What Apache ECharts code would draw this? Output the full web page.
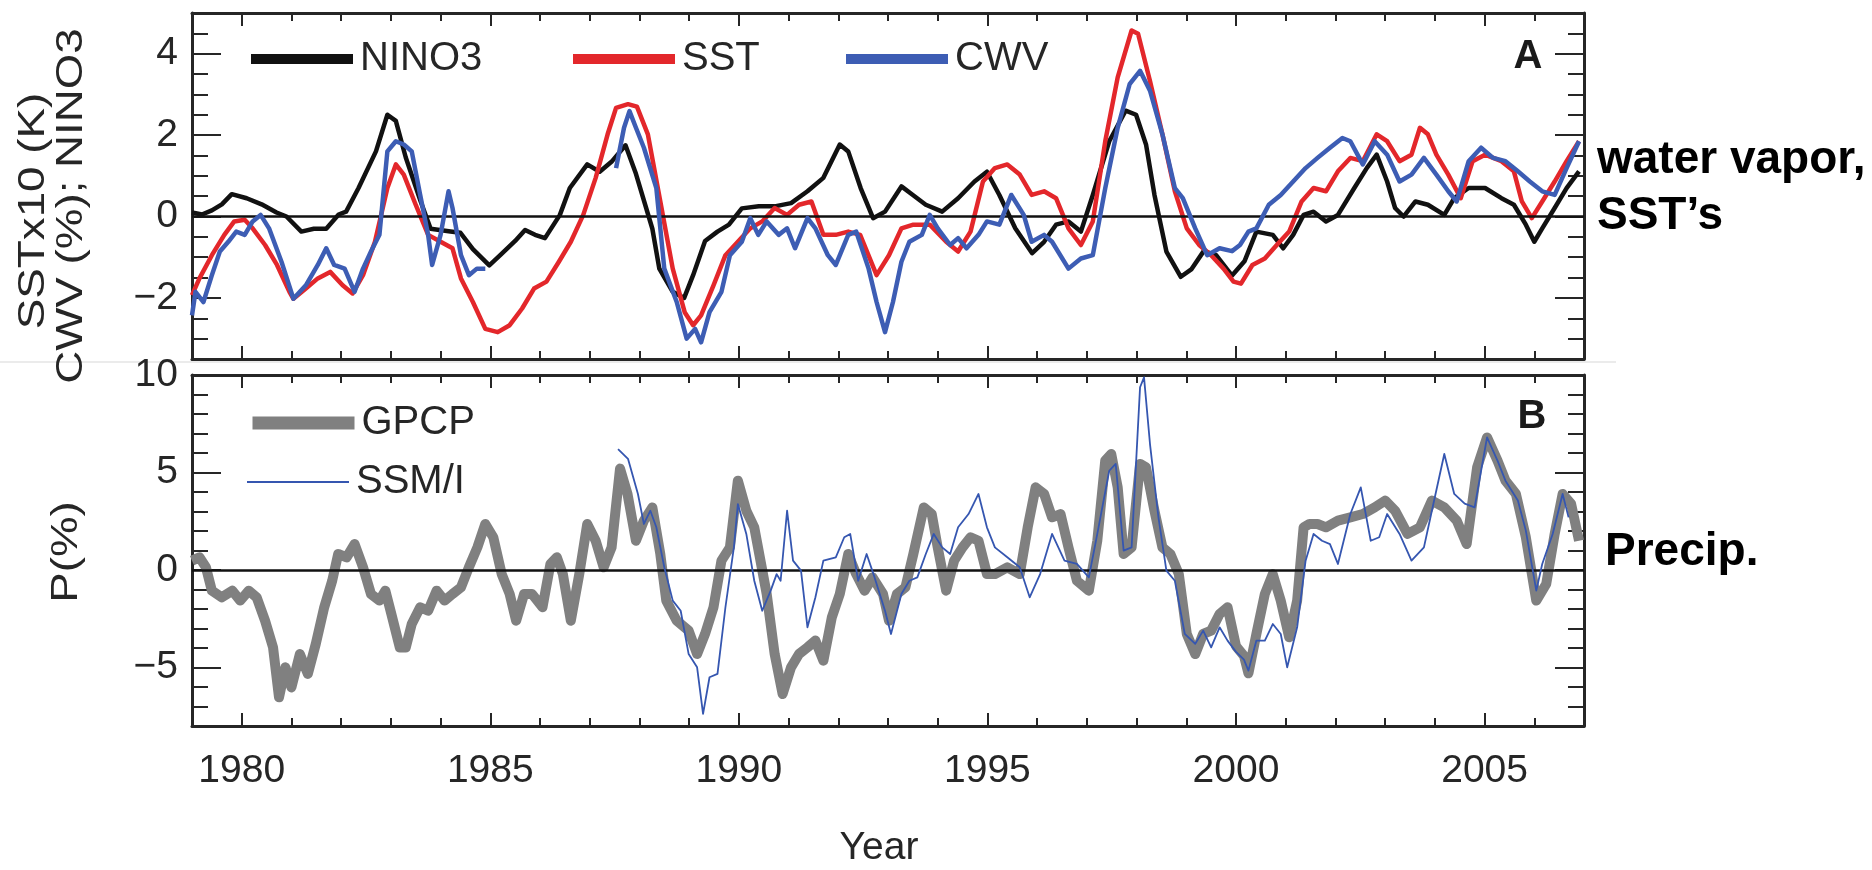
<!DOCTYPE html>
<html>
<head>
<meta charset="utf-8">
<title>NINO3, SST, CWV and precipitation anomalies</title>
<script src="https://cdn.jsdelivr.net/npm/echarts@6/dist/echarts.min.js"></script>
<style>
  html, body { margin: 0; padding: 0; background: #fff; }
  #chart { width: 1872px; height: 870px; }
</style>
</head>
<body>
<div id="chart"></div>
<script>
// tick labels
var yearLabels = [1980, 1985, 1990, 1995, 2000, 2005];
var topLabels = [-2, 0, 2, 4];
var bottomLabels = [-5, 0, 5, 10];

// panel A : [year, value]
var nino3 = [[1979.0,0.1],[1979.2,0.05],[1979.4,0.15],[1979.6,0.3],[1979.8,0.55],[1980.1,0.45],[1980.4,0.3],[1980.7,0.1],[1980.9,0.0],[1981.2,-0.37],[1981.45,-0.3],[1981.7,-0.3],[1981.95,0.05],[1982.1,0.12],[1982.35,0.7],[1982.7,1.6],[1982.93,2.5],[1983.1,2.35],[1983.3,1.45],[1983.6,0.37],[1983.8,-0.3],[1984.2,-0.37],[1984.4,-0.4],[1984.65,-0.8],[1984.98,-1.2],[1985.2,-0.95],[1985.5,-0.6],[1985.7,-0.33],[1985.9,-0.45],[1986.1,-0.53],[1986.4,0.04],[1986.6,0.7],[1986.95,1.28],[1987.2,1.1],[1987.45,1.36],[1987.72,1.75],[1987.93,1.05],[1988.26,-0.3],[1988.4,-1.28],[1988.67,-1.85],[1988.9,-2.0],[1989.08,-1.44],[1989.32,-0.6],[1989.57,-0.37],[1989.8,-0.2],[1990.06,0.2],[1990.4,0.25],[1990.72,0.25],[1991.05,0.33],[1991.38,0.62],[1991.7,0.95],[1992.03,1.77],[1992.2,1.6],[1992.45,0.7],[1992.7,-0.04],[1992.94,0.12],[1993.27,0.74],[1993.5,0.53],[1993.76,0.29],[1994.09,0.12],[1994.41,0.45],[1994.74,0.86],[1994.99,1.1],[1995.24,0.53],[1995.56,-0.29],[1995.9,-0.9],[1996.14,-0.62],[1996.38,-0.2],[1996.63,-0.12],[1996.88,-0.37],[1997.12,0.53],[1997.45,1.85],[1997.78,2.6],[1997.99,2.5],[1998.19,1.77],[1998.36,0.53],[1998.6,-0.86],[1998.89,-1.48],[1999.1,-1.3],[1999.35,-0.85],[1999.6,-0.95],[1999.92,-1.45],[2000.17,-1.1],[2000.41,-0.37],[2000.74,-0.45],[2000.95,-0.78],[2001.15,-0.45],[2001.36,0.04],[2001.56,0.12],[2001.81,-0.12],[2002.05,0.04],[2002.38,0.7],[2002.63,1.19],[2002.83,1.52],[2003.04,0.86],[2003.2,0.21],[2003.37,0.0],[2003.61,0.37],[2003.86,0.29],[2004.19,0.04],[2004.39,0.45],[2004.68,0.7],[2005.01,0.7],[2005.34,0.45],[2005.59,0.29],[2005.83,-0.2],[2006.0,-0.62],[2006.16,-0.29],[2006.41,0.21],[2006.65,0.7],[2006.9,1.11]];

var sst = [[1979.0,-1.93],[1979.15,-1.52],[1979.4,-0.95],[1979.65,-0.45],[1979.85,-0.12],[1980.06,-0.08],[1980.22,-0.29],[1980.47,-0.7],[1980.71,-1.19],[1980.96,-1.85],[1981.04,-2.02],[1981.29,-1.77],[1981.53,-1.52],[1981.78,-1.36],[1982.03,-1.69],[1982.23,-1.89],[1982.44,-1.44],[1982.68,-0.62],[1982.93,0.7],[1983.1,1.28],[1983.26,1.03],[1983.5,0.29],[1983.75,-0.45],[1984.0,-0.62],[1984.24,-0.78],[1984.41,-1.52],[1984.65,-2.1],[1984.9,-2.76],[1985.15,-2.84],[1985.39,-2.67],[1985.64,-2.26],[1985.88,-1.77],[1986.13,-1.6],[1986.38,-1.11],[1986.62,-0.62],[1986.87,0.04],[1987.12,0.95],[1987.36,2.02],[1987.53,2.67],[1987.77,2.76],[1987.95,2.7],[1988.17,2.02],[1988.42,0.37],[1988.67,-1.28],[1988.91,-2.35],[1989.08,-2.67],[1989.24,-2.43],[1989.49,-1.69],[1989.73,-0.95],[1989.98,-0.62],[1990.23,-0.29],[1990.47,-0.12],[1990.72,0.21],[1990.97,0.04],[1991.21,0.29],[1991.46,0.37],[1991.7,-0.45],[1991.95,-0.45],[1992.2,-0.37],[1992.44,-0.45],[1992.77,-1.44],[1993.02,-0.95],[1993.27,-0.29],[1993.51,-0.2],[1993.84,-0.2],[1994.17,-0.62],[1994.41,-0.86],[1994.66,-0.37],[1994.91,0.86],[1995.15,1.19],[1995.4,1.28],[1995.65,1.03],[1995.89,0.53],[1996.14,0.62],[1996.38,0.45],[1996.63,-0.29],[1996.88,-0.7],[1997.12,-0.12],[1997.37,1.85],[1997.62,3.42],[1997.9,4.57],[1998.03,4.49],[1998.27,3.33],[1998.52,2.02],[1998.77,0.62],[1999.01,-0.29],[1999.26,-0.7],[1999.5,-0.95],[1999.75,-1.28],[1999.95,-1.6],[2000.1,-1.65],[2000.33,-1.19],[2000.58,-1.03],[2000.82,-0.7],[2001.07,-0.37],[2001.32,0.37],[2001.56,0.7],[2001.81,0.62],[2002.05,1.11],[2002.3,1.44],[2002.55,1.36],[2002.83,2.02],[2003.04,1.85],[2003.29,1.36],[2003.53,1.52],[2003.7,2.18],[2003.86,2.02],[2004.03,1.52],[2004.27,1.03],[2004.52,0.45],[2004.76,1.36],[2005.01,1.52],[2005.34,1.36],[2005.59,1.11],[2005.75,0.37],[2005.95,-0.04],[2006.16,0.37],[2006.41,0.86],[2006.65,1.36],[2006.9,1.85]];

// CWV has no data between early 1985 and mid 1987
var cwv = [[1979.0,-2.43],[1979.07,-1.85],[1979.23,-2.1],[1979.4,-1.44],[1979.56,-0.86],[1979.73,-0.62],[1979.89,-0.37],[1980.06,-0.45],[1980.22,-0.12],[1980.38,0.04],[1980.55,-0.29],[1980.8,-1.11],[1981.04,-2.02],[1981.29,-1.69],[1981.53,-1.19],[1981.7,-0.78],[1981.86,-1.19],[1982.07,-1.28],[1982.27,-1.85],[1982.44,-1.28],[1982.6,-0.86],[1982.77,-0.45],[1982.93,1.6],[1983.1,1.85],[1983.26,1.77],[1983.42,1.6],[1983.59,0.53],[1983.75,-0.45],[1983.83,-1.19],[1984.0,-0.45],[1984.16,0.62],[1984.24,0.21],[1984.41,-0.95],[1984.57,-1.44],[1984.73,-1.28],[1984.9,-1.28],
  [1986.2,null],
  [1987.53,1.19],[1987.69,2.18],[1987.8,2.59],[1987.93,2.18],[1988.09,1.69],[1988.34,0.7],[1988.5,-1.28],[1988.75,-2.1],[1988.95,-3.0],[1989.12,-2.76],[1989.24,-3.09],[1989.41,-2.35],[1989.65,-1.85],[1989.82,-0.95],[1990.06,-0.62],[1990.23,-0.04],[1990.39,-0.45],[1990.56,-0.12],[1990.8,-0.45],[1990.97,-0.29],[1991.13,-0.78],[1991.38,-0.04],[1991.54,-0.29],[1991.79,-0.95],[1991.95,-1.19],[1992.2,-0.45],[1992.36,-0.37],[1992.61,-1.28],[1992.77,-2.1],[1992.94,-2.84],[1993.1,-2.1],[1993.27,-1.11],[1993.43,-0.62],[1993.68,-0.45],[1993.84,0.04],[1994.0,-0.29],[1994.25,-0.7],[1994.41,-0.53],[1994.58,-0.78],[1994.82,-0.45],[1994.99,-0.12],[1995.24,-0.2],[1995.48,0.53],[1995.73,0.04],[1995.89,-0.62],[1996.14,-0.45],[1996.3,-0.62],[1996.63,-1.28],[1996.88,-1.03],[1997.12,-0.95],[1997.37,0.7],[1997.62,2.18],[1997.86,3.25],[1998.07,3.58],[1998.27,3.09],[1998.52,2.02],[1998.77,0.7],[1998.93,0.45],[1999.18,-0.29],[1999.42,-0.95],[1999.67,-0.78],[1999.92,-0.85],[2000.08,-0.7],[2000.25,-0.37],[2000.41,-0.29],[2000.66,0.29],[2000.9,0.53],[2001.15,0.86],[2001.4,1.19],[2001.64,1.44],[2001.89,1.69],[2002.14,1.93],[2002.3,1.85],[2002.55,1.28],[2002.79,1.85],[2003.04,1.52],[2003.29,0.86],[2003.53,1.03],[2003.78,1.44],[2004.03,1.03],[2004.27,0.62],[2004.44,0.37],[2004.68,1.36],[2004.93,1.69],[2005.17,1.44],[2005.42,1.36],[2005.67,1.11],[2005.91,0.86],[2006.16,0.62],[2006.41,0.53],[2006.65,1.19],[2006.9,1.85]];

// panel B : [year, value]
var gpcp = [[1979.0,0.48],[1979.15,0.65],[1979.28,0.14],[1979.4,-1.06],[1979.6,-1.4],[1979.81,-1.06],[1979.97,-1.57],[1980.14,-1.06],[1980.3,-1.4],[1980.47,-2.6],[1980.63,-3.97],[1980.75,-6.53],[1980.88,-4.99],[1981.0,-6.02],[1981.17,-4.31],[1981.33,-5.33],[1981.49,-3.79],[1981.66,-1.91],[1981.82,-0.55],[1981.94,0.82],[1982.11,0.65],[1982.27,1.33],[1982.44,0.14],[1982.6,-1.23],[1982.77,-1.57],[1982.89,-1.06],[1983.01,-2.26],[1983.18,-3.97],[1983.3,-3.97],[1983.42,-2.77],[1983.59,-1.91],[1983.75,-2.09],[1983.92,-1.06],[1984.08,-1.57],[1984.24,-1.23],[1984.41,-0.89],[1984.57,0.14],[1984.74,1.16],[1984.9,2.36],[1985.06,1.68],[1985.23,-0.21],[1985.39,-1.23],[1985.52,-2.6],[1985.68,-1.23],[1985.84,-1.23],[1986.05,-1.91],[1986.21,0.31],[1986.34,0.65],[1986.46,-0.21],[1986.62,-2.6],[1986.79,-0.21],[1986.95,2.36],[1987.12,1.5],[1987.28,0.14],[1987.44,1.16],[1987.61,5.2],[1987.76,3.9],[1987.93,1.5],[1988.09,2.53],[1988.26,3.21],[1988.42,0.82],[1988.54,-1.57],[1988.75,-2.6],[1988.99,-3.11],[1989.16,-4.31],[1989.32,-3.28],[1989.49,-1.91],[1989.65,0.48],[1989.82,1.16],[1989.98,4.58],[1990.15,3.04],[1990.31,2.19],[1990.56,-1.23],[1990.72,-4.31],[1990.88,-6.36],[1991.05,-4.99],[1991.21,-4.31],[1991.38,-3.97],[1991.54,-3.62],[1991.7,-4.65],[1991.87,-2.43],[1992.03,-1.23],[1992.2,0.82],[1992.36,-0.21],[1992.53,-1.06],[1992.69,-0.38],[1992.9,-1.23],[1993.02,-2.6],[1993.18,-1.23],[1993.35,-0.89],[1993.51,0.82],[1993.72,3.21],[1993.88,2.87],[1994.0,1.16],[1994.17,-1.06],[1994.33,0.48],[1994.5,1.16],[1994.66,1.68],[1994.82,1.5],[1994.99,-0.21],[1995.15,-0.21],[1995.4,0.14],[1995.65,-0.21],[1995.81,2.19],[1995.97,4.24],[1996.14,3.9],[1996.3,2.7],[1996.47,2.87],[1996.63,1.16],[1996.8,-0.55],[1997.04,-1.06],[1997.21,1.5],[1997.37,5.61],[1997.49,5.95],[1997.62,4.24],[1997.74,0.82],[1997.9,1.16],[1998.07,5.44],[1998.19,5.26],[1998.36,3.04],[1998.52,1.16],[1998.68,0.82],[1998.85,-0.21],[1999.01,-3.28],[1999.18,-4.31],[1999.34,-3.28],[1999.5,-3.11],[1999.67,-2.26],[1999.83,-1.91],[2000.0,-3.9],[2000.16,-4.4],[2000.25,-5.3],[2000.41,-3.28],[2000.58,-1.23],[2000.74,-0.21],[2000.9,-1.57],[2001.07,-3.45],[2001.23,-1.57],[2001.36,2.19],[2001.48,2.36],[2001.64,2.36],[2001.81,2.19],[2002.05,2.53],[2002.3,2.7],[2002.55,2.87],[2002.79,3.21],[2003.0,3.56],[2003.2,3.04],[2003.45,1.85],[2003.7,2.19],[2003.94,3.56],[2004.19,3.21],[2004.44,2.53],[2004.64,1.33],[2004.85,5.26],[2005.05,6.8],[2005.26,5.61],[2005.42,4.58],[2005.63,3.9],[2005.83,1.68],[2006.04,-1.57],[2006.24,-0.72],[2006.41,1.85],[2006.57,3.9],[2006.74,3.4],[2006.9,1.5]];

var ssmi = [[1987.57,6.2],[1987.77,5.7],[1987.97,3.9],[1988.09,2.36],[1988.22,3.04],[1988.34,2.19],[1988.5,0.14],[1988.67,-1.57],[1988.83,-2.09],[1988.99,-4.31],[1989.16,-4.99],[1989.28,-7.38],[1989.41,-5.5],[1989.57,-5.33],[1989.73,-1.91],[1989.9,1.16],[1989.98,3.38],[1990.15,1.85],[1990.31,-0.55],[1990.47,-2.09],[1990.64,-1.06],[1990.76,-0.21],[1990.84,-0.55],[1990.97,3.04],[1991.09,0.48],[1991.25,-0.03],[1991.38,-2.94],[1991.54,-1.4],[1991.7,0.48],[1991.95,0.65],[1992.12,1.68],[1992.24,1.85],[1992.4,-0.55],[1992.57,0.82],[1992.73,-0.38],[1992.94,-2.09],[1993.06,-3.28],[1993.27,-1.23],[1993.43,-0.55],[1993.59,-0.38],[1993.76,0.82],[1993.92,1.85],[1994.09,1.16],[1994.25,0.82],[1994.41,2.19],[1994.62,2.87],[1994.82,3.9],[1994.99,2.19],[1995.15,1.16],[1995.4,0.65],[1995.65,0.14],[1995.85,-1.4],[1996.06,-0.21],[1996.3,1.85],[1996.55,0.48],[1996.8,0.31],[1997.04,-0.38],[1997.21,1.85],[1997.45,5.09],[1997.58,5.44],[1997.74,0.99],[1997.9,1.16],[1998.07,9.37],[1998.15,9.88],[1998.27,6.46],[1998.44,2.7],[1998.6,-0.03],[1998.77,-0.55],[1998.97,-3.28],[1999.18,-3.79],[1999.34,-3.11],[1999.5,-3.97],[1999.67,-2.94],[1999.83,-3.62],[2000.0,-4.2],[2000.16,-4.6],[2000.25,-5.16],[2000.41,-3.62],[2000.58,-3.62],[2000.74,-2.77],[2000.9,-3.28],[2001.03,-4.99],[2001.23,-2.94],[2001.4,0.48],[2001.56,1.85],[2001.73,1.5],[2001.89,1.33],[2002.05,0.31],[2002.3,2.87],[2002.51,4.24],[2002.71,1.5],[2002.88,1.68],[2003.04,2.87],[2003.29,1.85],[2003.53,0.48],[2003.78,1.16],[2003.94,3.04],[2004.19,5.95],[2004.39,3.9],[2004.6,3.4],[2004.8,3.21],[2004.93,5.09],[2005.05,6.8],[2005.26,5.61],[2005.42,4.58],[2005.67,3.56],[2005.83,2.02],[2006.04,-1.06],[2006.16,0.31],[2006.37,1.85],[2006.57,3.9],[2006.69,2.7]];

var font = "'Liberation Sans', Arial, sans-serif";
var ink = '#262626';

function minus(v) {
  return v < 0 ? '\u2212' + (-v) : '' + v;
}

// four x axes per panel: yearly ticks bottom/top, 5-year ticks bottom/top
function xAxes(grid, withLabels) {
  var list = [];
  ['bottom', 'top'].forEach(function (pos) {
    var a = {
      type: 'value', gridIndex: grid, position: pos, min: 1979, max: 2007, interval: 1,
      splitLine: { show: false },
      axisLine: { show: true, onZero: false, lineStyle: { color: ink, width: 3 } },
      axisTick: { show: true, inside: true, length: 8, lineStyle: { color: ink, width: 2 } },
      axisLabel: { show: false }
    };
    if (withLabels && pos == 'bottom') {
      a.axisLabel = {
        show: true, margin: 26, color: ink, fontFamily: font, fontSize: 39,
        formatter: function (v) { return yearLabels.indexOf(v) >= 0 ? '' + v : ''; }
      };
      a.name = 'Year';
      a.nameLocation = 'middle';
      a.nameGap = 103;
      a.nameTextStyle = { color: ink, fontFamily: font, fontSize: 39, padding: [0, 18, 0, 0] };
    }
    list.push(a);
  });
  ['bottom', 'top'].forEach(function (pos) {
    list.push({
      type: 'value', gridIndex: grid, position: pos, min: 1979, max: 2007,
      splitLine: { show: false },
      axisLine: { show: false, onZero: false },
      axisTick: { show: true, inside: true, length: 13, customValues: yearLabels, lineStyle: { color: ink, width: 2 } },
      axisLabel: { show: false }
    });
  });
  return list;
}

function yAxes(grid, min, max, step, labels) {
  var list = [];
  ['left', 'right'].forEach(function (pos) {
    var a = {
      type: 'value', gridIndex: grid, position: pos, min: min, max: max, interval: step,
      splitLine: { show: false },
      axisLine: { show: true, onZero: false, lineStyle: { color: ink, width: 3 } },
      axisTick: { show: true, inside: true, length: 16, lineStyle: { color: ink, width: 2 } },
      axisLabel: { show: false }
    };
    if (pos == 'left') {
      a.axisLabel = {
        show: true, margin: 14, color: ink, fontFamily: font, fontSize: 39,
        formatter: function (v) { return labels.indexOf(v) >= 0 ? minus(v) : ''; }
      };
    }
    list.push(a);
  });
  ['left', 'right'].forEach(function (pos) {
    list.push({
      type: 'value', gridIndex: grid, position: pos, min: min, max: max,
      splitLine: { show: false },
      axisLine: { show: false, onZero: false },
      axisTick: { show: true, inside: true, length: 29, customValues: labels, lineStyle: { color: ink, width: 2 } },
      axisLabel: { show: false }
    });
  });
  return list;
}

function zeroLine() {
  return {
    silent: true, symbol: 'none', animation: false,
    label: { show: false },
    lineStyle: { color: '#111', width: 2.5, type: 'solid' },
    data: [{ yAxis: 0 }]
  };
}

// one legend per entry so each sits where the figure has it
function legendAt(name, left, top, width) {
  return {
    data: [name], left: left, top: top, itemWidth: 102, itemHeight: 16,
    selectedMode: false,
    lineStyle: { width: width },
    itemStyle: { opacity: 0, borderWidth: 0 },
    textStyle: { color: ink, fontFamily: font, fontSize: 40, padding: [0, 0, 0, 2] }
  };
}

var myChart = echarts.init(document.getElementById('chart'));

var option = {
  animation: false,
  backgroundColor: '#fff',
  grid: [
    { left: 192, top: 13, width: 1392, height: 346 },
    { left: 192, top: 375, width: 1392, height: 351 }
  ],
  xAxis: xAxes(0, false).concat(xAxes(1, true)),
  yAxis: yAxes(0, -3.5, 5, 0.5, topLabels).concat(yAxes(1, -8, 10, 1, bottomLabels)),
  legend: [
    legendAt('NINO3', 241, 34, 10),
    legendAt('SST', 563, 34, 10),
    legendAt('CWV', 836, 34, 10),
    legendAt('GPCP', 241, 398, 13),
    legendAt('SSM/I', 241, 457, 2)
  ],
  series: [
    {
      name: 'NINO3', type: 'line', xAxisIndex: 0, yAxisIndex: 0, data: nino3,
      symbol: 'none', showSymbol: false, z: 3,
      lineStyle: { color: '#111111', width: 4.5, join: 'round' }, itemStyle: { color: '#111111' },
      markLine: zeroLine()
    },
    {
      name: 'SST', type: 'line', xAxisIndex: 0, yAxisIndex: 0, data: sst,
      symbol: 'none', showSymbol: false, z: 4,
      lineStyle: { color: '#e3272b', width: 4.5, join: 'round' }, itemStyle: { color: '#e3272b' }
    },
    {
      name: 'CWV', type: 'line', xAxisIndex: 0, yAxisIndex: 0, data: cwv,
      symbol: 'none', showSymbol: false, connectNulls: false, z: 5,
      lineStyle: { color: '#3d5db4', width: 4.5, join: 'round' }, itemStyle: { color: '#3d5db4' }
    },
    {
      name: 'GPCP', type: 'line', xAxisIndex: 4, yAxisIndex: 4, data: gpcp,
      symbol: 'none', showSymbol: false, z: 3,
      lineStyle: { color: '#808080', width: 10, join: 'round' }, itemStyle: { color: '#808080' },
      markLine: zeroLine()
    },
    {
      name: 'SSM/I', type: 'line', xAxisIndex: 4, yAxisIndex: 4, data: ssmi,
      symbol: 'none', showSymbol: false, z: 5,
      lineStyle: { color: '#3556b0', width: 1.8, join: 'round' }, itemStyle: { color: '#3556b0' }
    }
  ],
  graphic: [
    { type: 'line', z: -1, shape: { x1: 0, y1: 362, x2: 1616, y2: 362 }, style: { stroke: '#e4e4e4', lineWidth: 1.5 } },
    { type: 'text', x: 34, y: 211, rotation: Math.PI / 2, scaleX: 1.27,
      style: { text: 'SSTx10 (K)', font: '36px ' + font, fill: ink, textAlign: 'center', textVerticalAlign: 'middle' } },
    { type: 'text', x: 72, y: 206, rotation: Math.PI / 2, scaleX: 1.27,
      style: { text: 'CWV (%); NINO3', font: '36px ' + font, fill: ink, textAlign: 'center', textVerticalAlign: 'middle' } },
    { type: 'text', x: 67, y: 552, rotation: Math.PI / 2, scaleX: 1.27,
      style: { text: 'P(%)', font: '36px ' + font, fill: ink, textAlign: 'center', textVerticalAlign: 'middle' } },
    { type: 'text', x: 1528, y: 57,
      style: { text: 'A', font: 'bold 40px ' + font, fill: '#1a1a1a', textAlign: 'center', textVerticalAlign: 'middle' } },
    { type: 'text', x: 1532, y: 417,
      style: { text: 'B', font: 'bold 40px ' + font, fill: '#1a1a1a', textAlign: 'center', textVerticalAlign: 'middle' } },
    { type: 'text', x: 1597, y: 160,
      style: { text: 'water vapor,', font: 'bold 46px ' + font, fill: '#000', textAlign: 'left', textVerticalAlign: 'middle' } },
    { type: 'text', x: 1597, y: 216,
      style: { text: 'SST\u2019s', font: 'bold 46px ' + font, fill: '#000', textAlign: 'left', textVerticalAlign: 'middle' } },
    { type: 'text', x: 1605, y: 552,
      style: { text: 'Precip.', font: 'bold 46px ' + font, fill: '#000', textAlign: 'left', textVerticalAlign: 'middle' } }
  ]
};

myChart.setOption(option);
</script>
</body>
</html>
